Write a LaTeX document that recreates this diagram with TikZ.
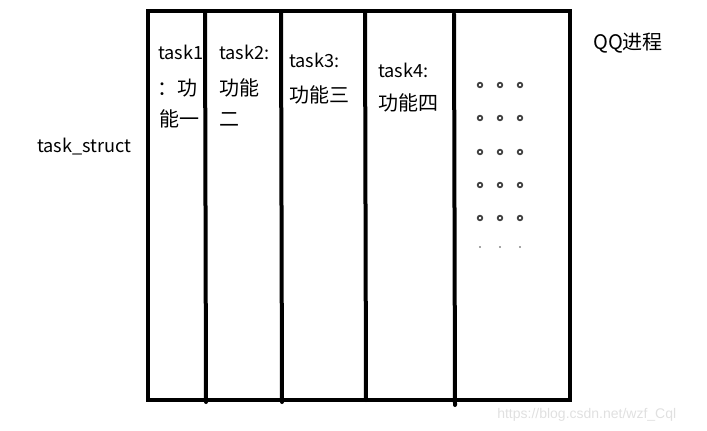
\documentclass[tikz,border=0pt]{standalone}
\usepackage{fontspec}
\setmainfont{Noto Sans CJK SC}
\newfontfamily\wmfont{Liberation Sans}
\begin{document}
\begin{tikzpicture}[x=0.75pt,y=-0.75pt,
  frame/.style={line width=3pt,line cap=round,line join=miter},
  lbl/.style={anchor=base west,inner sep=0pt,font=\fontsize{13.6}{16}\selectfont},
  cjk/.style={anchor=base west,inner sep=0pt,font=\fontsize{15}{17}\selectfont},
  ring/.style={draw=black!75,line width=1.3pt,fill=white},
  wm/.style={anchor=base west,inner sep=0pt,text=black!12,font=\wmfont\fontsize{10.5}{12}\selectfont}]
\useasboundingbox (0,0) rectangle (707,430);
% outer box
\draw[frame] (148,11) rectangle (570,400);
\draw[frame] (205,11) -- (206,402);
\draw[frame] (281,11) -- (282,402);
\draw[frame] (365,11) -- (366,400);
\draw[frame] (454,14) -- (455,405);
% labels
\node[lbl] (t1a) at (158,59) {task1};
\node[cjk] (t1b) at (157,95) {：功};
\node[cjk] (t1c) at (159,126) {能一};
\node[lbl] (t2a) at (219,59) {task2:};
\node[cjk] (t2b) at (219,95) {功能};
\node[cjk] (t2c) at (219,126) {二};
\node[lbl] (t3a) at (289,67) {task3:};
\node[cjk] (t3b) at (289,102) {功能三};
\node[lbl] (t4a) at (378,77) {task4:};
\node[cjk] (t4b) at (378,110) {功能四};
\node[lbl] (ts) at (37,152) {task\_struct};
\node[cjk] (qq) at (593,49) {QQ进程};
% dots
\foreach \yy in {85,118,152,185,218}{
  \foreach \xx in {480,500,520}{
    \draw[ring] (\xx,\yy) circle (2.3);
  }
}
\foreach \xx in {480,500,520}{
  \draw[black!35,line width=0.8pt] (\xx-1.2,247) -- (\xx+1.2,247);
}
\node[wm] (wmk) at (497,418) {https://blog.csdn.net/wzf\_Cql};
\end{tikzpicture}
\end{document}
